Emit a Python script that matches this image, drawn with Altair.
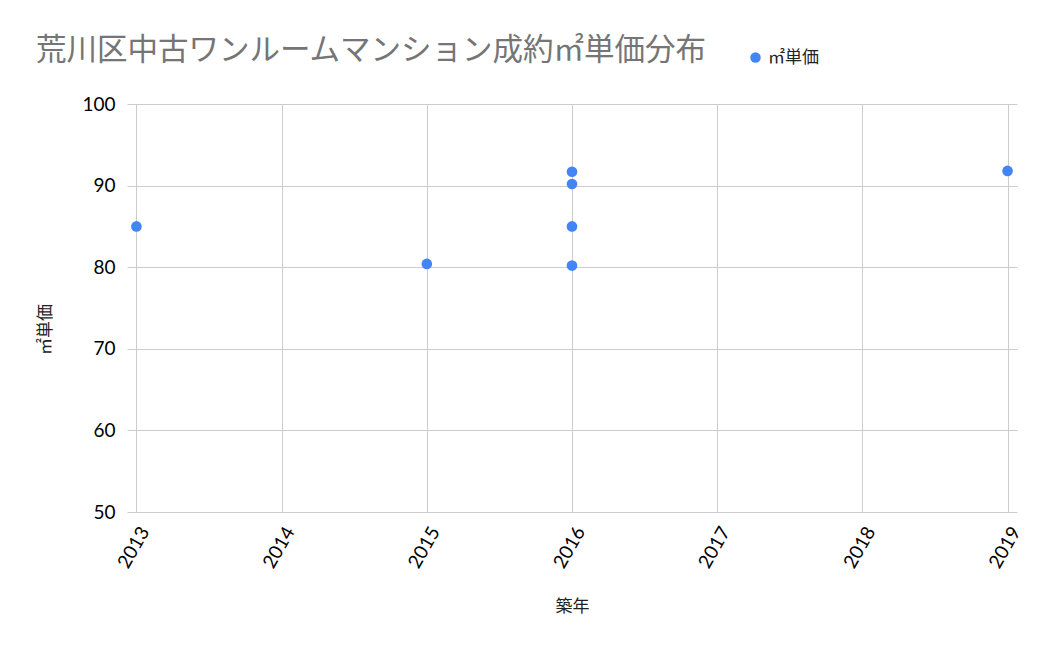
import altair as alt
import pandas as pd

years = [2013, 2015, 2016, 2016, 2016, 2016, 2019]
prices = [85.0, 80.4, 91.7, 90.2, 85.0, 80.2, 91.8]
series = ["㎡単価"] * len(years)
x_ticks = [2013, 2014, 2015, 2016, 2017, 2018, 2019]
y_ticks = [50, 60, 70, 80, 90, 100]

df = pd.DataFrame({"築年": years, "㎡単価": prices, "系列": series})

FONT = "Lato, Noto Sans CJK JP, sans-serif"

chart = alt.Chart(df).mark_circle(size=113, opacity=1).encode(
    x=alt.X("築年:Q",
            scale=alt.Scale(domain=[2012.935, 2019.065], nice=False, zero=False),
            axis=alt.Axis(values=x_ticks, format="d", labelAngle=300, domain=False, ticks=False,
                          labelPadding=16, labelOffset=8, labelFontSize=19, labelColor="#000",
                          title="築年", titleFontSize=17, titleFontWeight="normal",
                          titleColor="#222", titlePadding=27,
                          gridColor="#cccccc", labelFont=FONT, titleFont=FONT)),
    y=alt.Y("㎡単価:Q",
            scale=alt.Scale(domain=[50, 100], nice=False, zero=False),
            axis=alt.Axis(values=y_ticks, domain=False, ticks=False, labelPadding=12,
                          labelFontSize=19, labelColor="#000",
                          title="㎡単価", titleFontSize=17, titleFontWeight="normal",
                          titleColor="#222", titleX=-73, titleY=225,
                          gridColor="#cccccc", labelFont=FONT, titleFont=FONT)),
    color=alt.Color("系列:N", scale=alt.Scale(range=["#4285F4"]),
                    legend=alt.Legend(title=None, orient="none", legendX=620, legendY=-55,
                                      symbolType="circle", symbolSize=110, labelFontSize=17,
                                      labelColor="#222", labelFont=FONT)),
).properties(
    width=890, height=408,
    title=alt.TitleParams("荒川区中古ワンルームマンション成約㎡単価分布", anchor="start",
                          fontSize=30.5, fontWeight="normal", color="#757575",
                          font=FONT, frame="bounds", dx=0, offset=-17),
    autosize=alt.AutoSizeParams(type="none"),
    padding={"left": 119, "top": 96, "right": 25, "bottom": 120},
).configure_view(stroke=None)

chart.save("out.html", embed_options={"renderer": "svg", "actions": False})
